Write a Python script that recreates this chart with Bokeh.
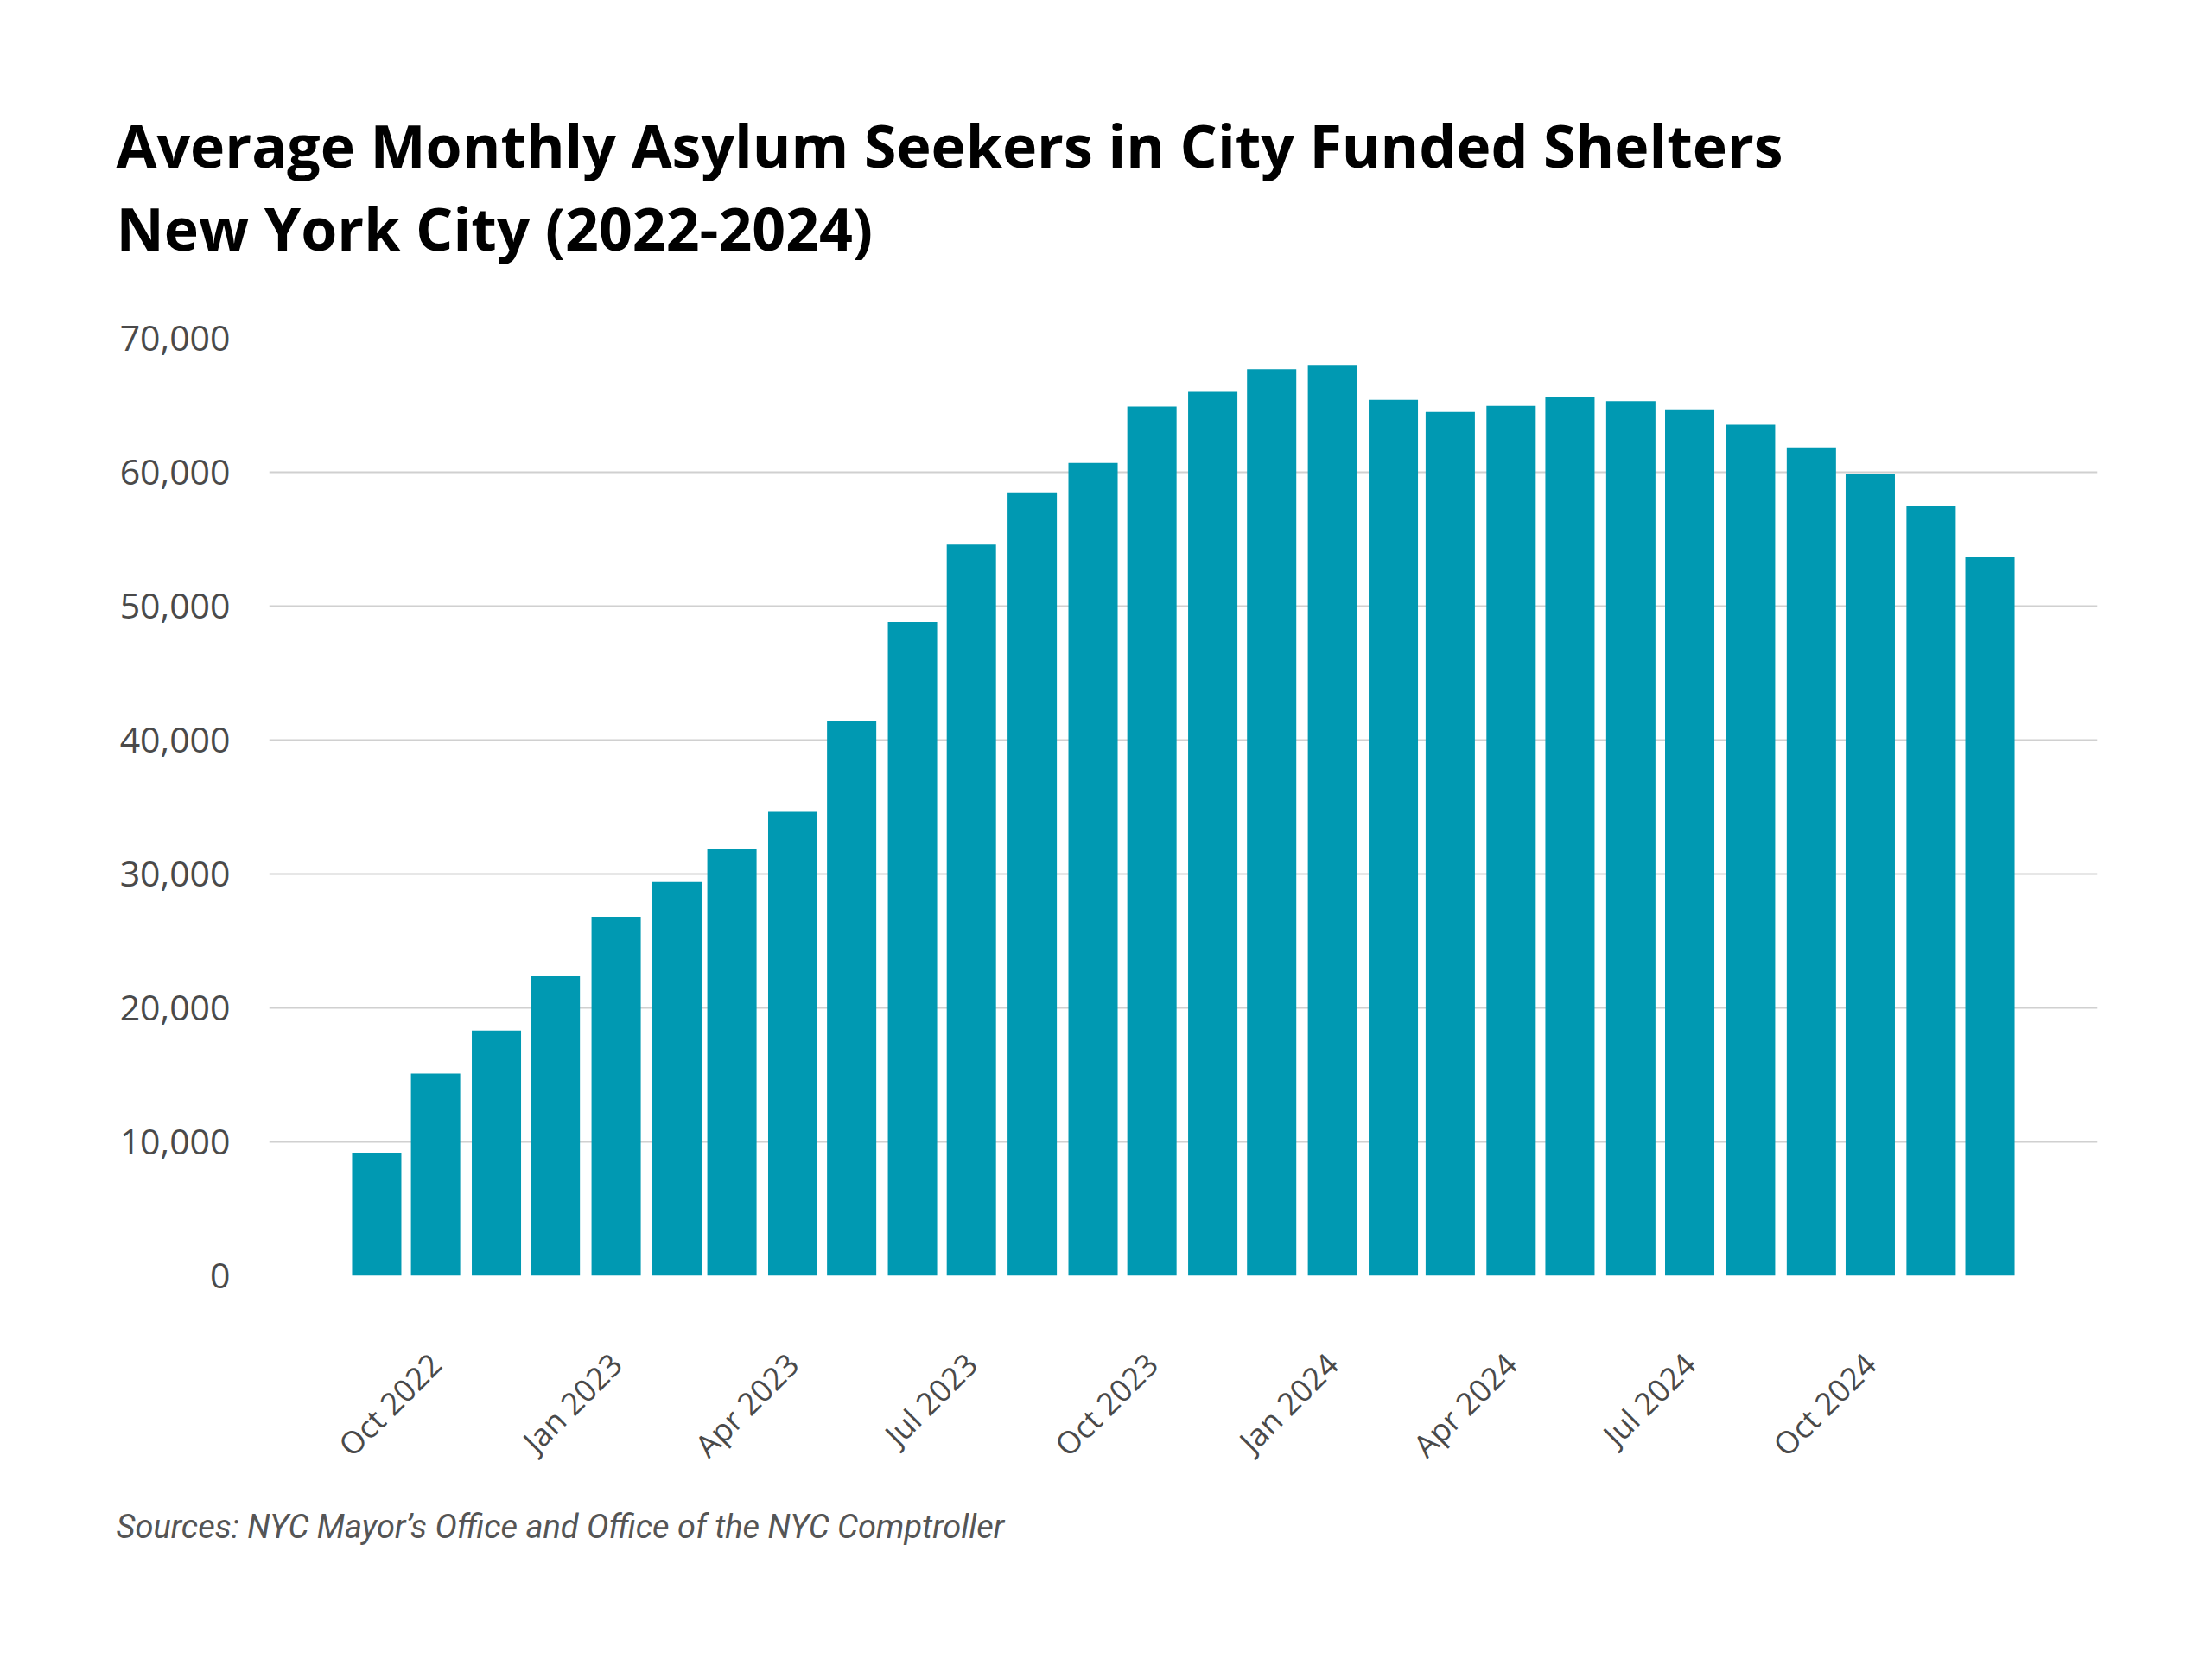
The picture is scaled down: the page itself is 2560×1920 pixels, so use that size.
import math
import pandas as pd
from bokeh.plotting import figure
from bokeh.models import Range1d, FixedTicker, NumeralTickFormatter, Title, ColumnDataSource
from bokeh.embed import file_html
from bokeh.resources import INLINE

# datos: promedio mensual de solicitantes de asilo en albergues de la ciudad
months = ["2022-09", "2022-10", "2022-11", "2022-12",
          "2023-01", "2023-02", "2023-03", "2023-04", "2023-05", "2023-06",
          "2023-07", "2023-08", "2023-09", "2023-10", "2023-11", "2023-12",
          "2024-01", "2024-02", "2024-03", "2024-04", "2024-05", "2024-06",
          "2024-07", "2024-08", "2024-09", "2024-10", "2024-11", "2024-12"]
seekers = [9200, 15100, 18300, 22400,
           26800, 29400, 31900, 34650, 41400, 48800,
           54600, 58500, 60700, 64900, 66000, 67700,
           67950, 65400, 64500, 64950, 65650, 65300,
           64700, 63550, 61850, 59850, 57450, 53650]

tick_months = ["2022-10", "2023-01", "2023-04", "2023-07", "2023-10",
               "2024-01", "2024-04", "2024-07", "2024-10"]
tick_labels = ["Oct 2022", "Jan 2023", "Apr 2023", "Jul 2023", "Oct 2023",
               "Jan 2024", "Apr 2024", "Jul 2024", "Oct 2024"]
y_ticks = [0, 10000, 20000, 30000, 40000, 50000, 60000, 70000]

title_lines = ["Average Monthly Asylum Seekers in City Funded Shelters",
               "New York City (2022-2024)"]
source_note = "Sources: NYC Mayor\u2019s Office and Office of the NYC Comptroller"

dates = pd.to_datetime(months)
src = ColumnDataSource(data=dict(date=dates, value=seekers))

DAY = 24 * 3600 * 1000
tick_ms = [int(pd.Timestamp(m).value // 10**6) for m in tick_months]

p = figure(x_axis_type="datetime", title=None,
           frame_width=2116, frame_height=1085,
           min_border_left=311, min_border_right=117,
           min_border_top=391, min_border_bottom=410,
           output_backend="svg", toolbar_location=None,
           background_fill_color="white", border_fill_color="white")
p.outline_line_color = None

p.x_range = Range1d(dates[0] - pd.Timedelta(days=54.8), dates[-1] + pd.Timedelta(days=54.8))
p.y_range = Range1d(0, 70000)

p.vbar(x="date", top="value", width=25.1 * DAY, source=src,
       fill_color="#0099b2", line_color=None)

# ejes
p.xgrid.grid_line_color = None
p.ygrid.grid_line_color = "#d0d0d0"
p.ygrid.grid_line_width = 2

p.yaxis.ticker = FixedTicker(ticks=y_ticks)
p.yaxis.formatter = NumeralTickFormatter(format="0,0")
p.xaxis.ticker = FixedTicker(ticks=tick_ms)
p.xaxis.major_label_overrides = dict(zip(tick_ms, tick_labels))
p.xaxis.major_label_orientation = math.pi / 4

for ax in (p.xaxis, p.yaxis):
    ax.axis_line_color = None
    ax.major_tick_line_color = None
    ax.minor_tick_line_color = None
    ax.major_label_text_font = "Open Sans"
    ax.major_label_text_color = "#4a4a4a"
p.yaxis.major_label_text_font_size = "41px"
p.xaxis.major_label_text_font_size = "36px"
p.yaxis.major_label_standoff = 39
p.xaxis.major_label_standoff = 90

# titulo en dos lineas
head = Title(text="\n".join(title_lines), align="left", offset=-177,
             text_font="Open Sans", text_font_size="68px", text_font_style="bold",
             text_color="#000000", text_line_height=1.03, standoff=163)
p.add_layout(head, "above")

note = Title(text=source_note, align="left", offset=-177, text_font="Roboto",
             text_font_size="38px", text_font_style="italic", text_color="#555555",
             standoff=50)
p.add_layout(note, "below")

open("out.html", "w").write(file_html(p, INLINE))
